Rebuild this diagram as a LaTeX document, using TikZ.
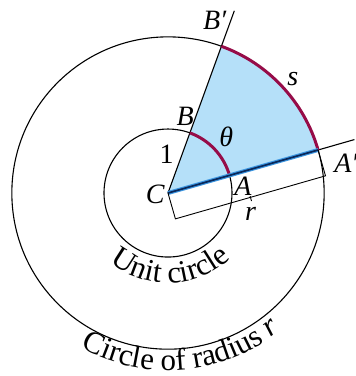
\documentclass[tikz,border=0pt]{standalone}
\usepackage{fontspec}
\setmainfont{Liberation Serif}
\usepackage{tikz}
\usetikzlibrary{calc, decorations.text}

\definecolor{sectorblue}{RGB}{181,224,249}
\definecolor{arcred}{RGB}{150,12,72}
\definecolor{rayglow}{RGB}{60,150,225}
\definecolor{raynavy}{RGB}{10,40,90}

\def\outR{2.44}

\begin{document}
\begin{tikzpicture}[x=64pt, y=64pt,
    thinline/.style={black, line width=1.1pt},
    redarc/.style={arcred, line width=3pt},
    lab/.style={inner sep=0pt, font=\fontsize{28}{32}\selectfont\itshape}]
    \useasboundingbox (-2.625, -2.859) rectangle (2.922, 3.016);

    % Points
    \coordinate (C) at (0, 0);
    \coordinate (A) at (16:1);
    \coordinate (B) at (70:1);
    \coordinate (Ap) at (16:\outR);
    \coordinate (Bp) at (70:\outR);
    \coordinate (Aend) at (16:3.03);
    \coordinate (Bend) at (70:3.03);

    % Sector
    \fill[sectorblue] (C) -- (Ap) arc[start angle=16, end angle=70, radius=\outR] -- cycle;

    % Circles and rays
    \draw[thinline] (C) circle (1);
    \draw[thinline] (C) circle (\outR);
    \draw[thinline] (C) -- (Aend);
    \draw[thinline] (C) -- (Bend);

    % Arcs s and theta
    \draw[redarc] (Ap) arc[start angle=16, end angle=70, radius=\outR];
    \draw[redarc] (A) arc[start angle=16, end angle=70, radius=1];

    % Radius CA'
    \draw[rayglow, line width=4pt] (C) -- (Ap);
    \draw[raynavy, line width=1.7pt] (C) -- (Ap);

    % Dimension r
    \coordinate (d1) at ($(C)+(-74:0.42)$);
    \coordinate (d2) at ($(Ap)+(-74:0.42)$);
    \coordinate (dm) at ($(d1)!0.5!(d2)$);
    \draw[thinline, line width=0.9pt] (C) -- (d1) -- (d2) -- (Ap);
    \draw[thinline, line width=0.9pt] ($(dm)+(106:0.02)$) -- ($(dm)+(-74:0.06)$);

    % Labels
    \node[lab] (labBp) at (0.73, 2.69) {B′};
    \node[lab] (labB) at (0.27, 1.19) {B};
    \node[lab, font=\fontsize{28}{32}\selectfont] (labone) at (-0.02, 0.61) {1};
    \node[lab] (labtheta) at (0.91, 0.875) {θ};
    \node[lab] (labs) at (1.95, 1.78) {s};
    \node[lab] (labAp) at (2.78, 0.47) {A′};
    \node[lab] (labC) at (-0.2, -0.02) {C};
    \node[lab] (labA) at (1.17, 0.11) {A};
    \node[lab] (labr) at (1.29, -0.33) {r};

    % Curved captions
    \path[decorate, decoration={text along path, text align=center,
        text={|\fontsize{31}{34}\selectfont|Unit circle}}]
        (C) ++(222:1.41) arc[start angle=222, end angle=322, radius=1.41];
    \path[decorate, decoration={text along path, text align=center,
        text={|\fontsize{31}{34}\selectfont|Circle of radius |\fontsize{31}{34}\selectfont\itshape|r}}]
        (C) ++(215:2.77) arc[start angle=215, end angle=335, radius=2.77];
\end{tikzpicture}
\end{document}
